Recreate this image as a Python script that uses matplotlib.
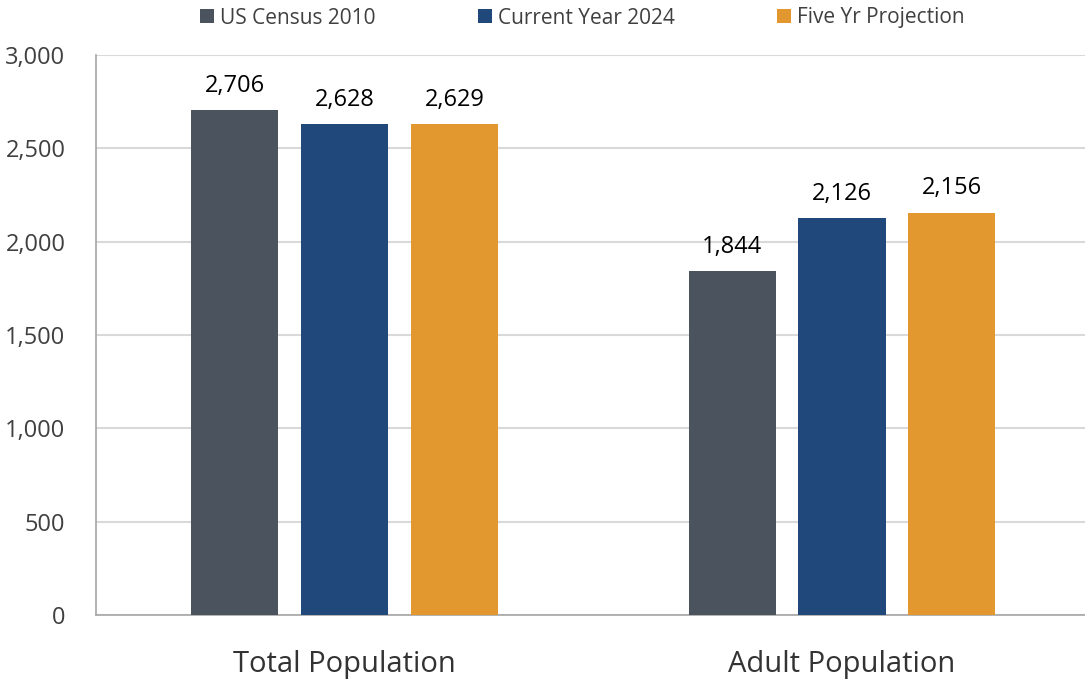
import matplotlib
matplotlib.use("Agg")
import matplotlib.pyplot as plt
import numpy as np

plt.rcParams['font.family'] = ['Open Sans', 'DejaVu Sans']

categories = ["Total Population", "Adult Population"]
series_names = ["US Census 2010", "Current Year 2024", "Five Yr Projection"]
census_2010 = [2706, 1844]
current_2024 = [2628, 2126]
projection = [2629, 2156]
colors = ["#4B545E", "#21487B", "#E3982F"]

fig = plt.figure(figsize=(10.85, 6.85), dpi=100)
ax = fig.add_axes([96 / 1085, 70 / 685, 989 / 1085, 560 / 685])

x = np.arange(len(categories))
width = 0.175
step = 0.221
for i, (vals, name, col) in enumerate(zip([census_2010, current_2024, projection], series_names, colors)):
    pos = x + (i - 1) * step
    bars = ax.bar(pos, vals, width, color=col, label=name, zorder=3)
    for b, v in zip(bars, vals):
        ax.annotate(f"{v:,}", (b.get_x() + b.get_width() / 2, v), xytext=(0, 13),
                    textcoords="offset points", ha="center", va="baseline",
                    fontsize=17, color="#000000")

ax.set_xlim(-0.4995, 1.4885)
ax.set_ylim(0, 3000)
ax.set_yticks(range(0, 3001, 500))
ax.set_yticklabels([f"{t:,}" for t in range(0, 3001, 500)], fontsize=17, color="#404040")
ax.set_xticks(x)
ax.set_xticklabels(categories, fontsize=21, color="#333333")
ax.tick_params(axis="both", length=0)
ax.tick_params(axis="x", pad=25)
ax.tick_params(axis="y", pad=22)
ax.grid(axis="y", color="#D9D9D9", linewidth=1.5, zorder=0)
for s in ["top", "right"]:
    ax.spines[s].set_visible(False)
ax.spines["left"].set_color("#A6A6A6")
ax.spines["bottom"].set_color("#A6A6A6")
ax.spines["left"].set_linewidth(1.2)
ax.spines["bottom"].set_linewidth(1.2)

fig.legend(loc="center", bbox_to_anchor=(0.537, 1 - 18 / 685), ncol=3, frameon=False,
           fontsize=15, handlelength=0.67, handleheight=0.67, columnspacing=4.9,
           handletextpad=0.3, labelcolor="#404040")

fig.savefig("out.png", dpi=100)
